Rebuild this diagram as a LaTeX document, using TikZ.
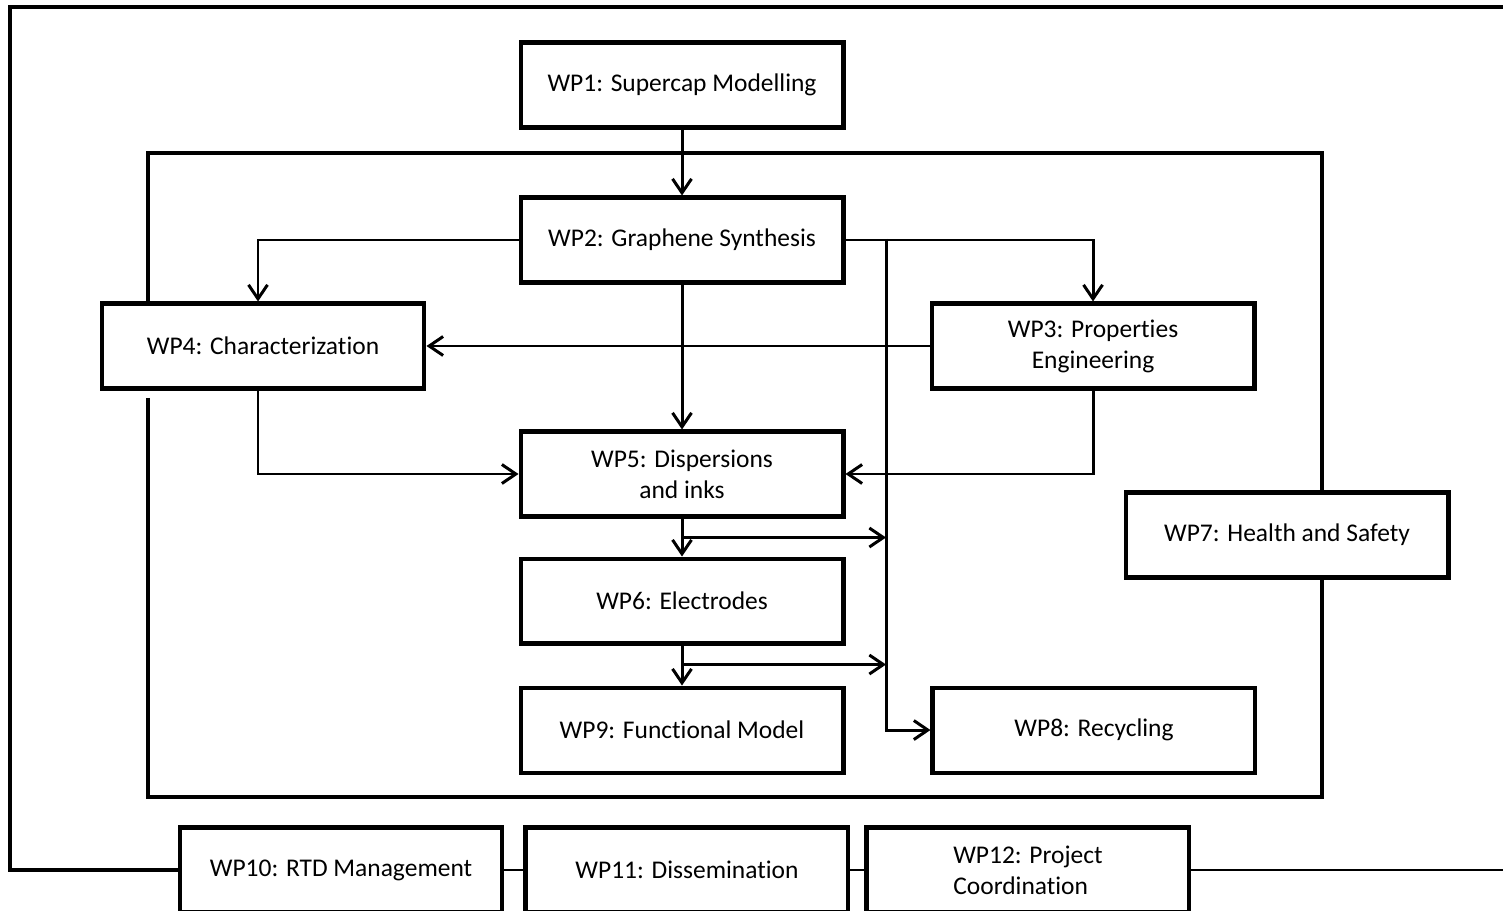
\documentclass[tikz,border=0pt]{standalone}
\usepackage{fontspec}
\setmainfont[Ligatures=NoCommon]{Carlito}
\usetikzlibrary{arrows.meta,positioning}

\begin{document}
\begin{tikzpicture}[
    x=0.02cm, y=-0.02cm,
    wpbox/.style={draw, fill=white, line width=2.3pt, minimum width=6.46cm, minimum height=1.70cm, align=center, font=\fontsize{14.5pt}{17.6pt}\selectfont},
    frame/.style={line width=1.8pt},
    link/.style={line width=1.7pt},
    arrow/.style={line width=1.7pt,->,>={Straight Barb[length=2.8mm,width=3.8mm]}}
]
    \useasboundingbox (0,0) rectangle (1503,911);

    % inner frame, broken below WP4
    \draw [frame] (148,398) |- (1322,797) |- (148,153) -- (148,303);

    \node (wp1) [wpbox] at (682,85) {WP1: Supercap Modelling};
    \node (wp2) [wpbox, below=1.32cm of wp1] {WP2: Graphene Synthesis};
    \node (wp4) [wpbox] at (263,346) {WP4: Characterization};
    \node (wp3) [wpbox] at (1093,346) {WP3: Properties\\Engineering};
    \node (wp5) [wpbox, below=2.9cm of wp2] {WP5: Dispersions\\and inks};
    \node (wp6) [wpbox, below=0.76cm of wp5] {WP6: Electrodes};
    \node (wp9) [wpbox, below=0.8cm of wp6] {WP9: Functional Model};
    \node (wp8) [wpbox, right=1.7cm of wp9] {WP8: Recycling};
    \node (wp7) [wpbox] at (1287,535) {WP7: Health and Safety};
    \node (wp10) [wpbox] at (341,870) {WP10: RTD Management};
    \node (wp11) [wpbox, right=0.38cm of wp10] {WP11: Dissemination};
    \node (wp12) [wpbox, right=0.28cm of wp11, align=left] {WP12: Project\\Coordination};

    \coordinate (bus) at (886,239);
    \coordinate (tl) at (10,7);
    \coordinate (tr) at (1503,7);
    \coordinate (br) at (1503,870);
    \path (wp5.south) ++(0,19) coordinate (b5);
    \path (wp6.south) ++(0,19) coordinate (b6);

    \draw [arrow] (wp1) -- (wp2);
    \draw [arrow] (wp2.west) -| ([xshift=-0.1cm]wp4.north);
    \draw [arrow] (wp2.east) -| (wp3.north);
    \draw [arrow] (bus) |- (wp8.west);
    \draw [arrow] (wp3.west) -- (wp4.east);
    \draw [arrow] (wp2) -- (wp5);
    \draw [arrow] ([xshift=-0.1cm]wp4.south) |- (wp5.west);
    \draw [arrow] (wp3.south) |- (wp5.east);
    \draw [arrow] (wp5) -- (wp6);
    \draw [arrow] (b5) -- (b5 -| bus);
    \draw [arrow] (wp6) -- (wp9);
    \draw [arrow] (b6) -- (b6 -| bus);

    % outer frame and bottom row
    \draw [frame] (wp10.west) -| (tl) -- (tr);
    \draw [link] (wp10) -- (wp11);
    \draw [link] (wp11) -- (wp12);
    \draw [link] (wp12.east) -- (br);
\end{tikzpicture}
\end{document}
